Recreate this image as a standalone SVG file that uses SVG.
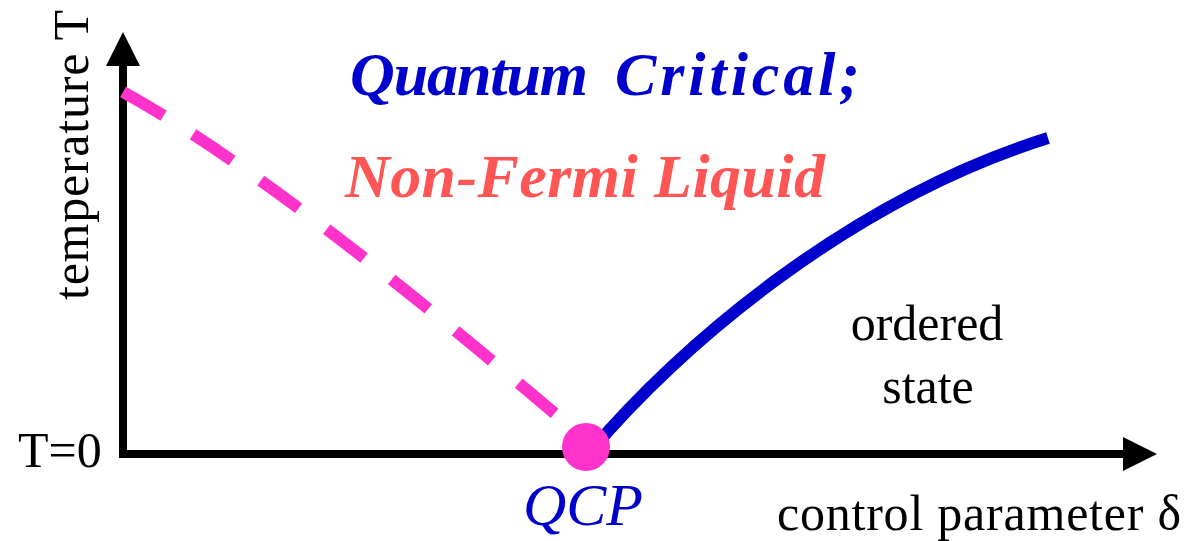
<svg xmlns="http://www.w3.org/2000/svg" width="1187" height="541" viewBox="0 0 1187 541">
<style>
.serif{font-family:"Liberation Serif","Times New Roman",serif;}
.lbl{font-size:50px;fill:#000;}
.bi{font-weight:bold;font-style:italic;}
.axis{stroke:#000;stroke-width:8;fill:none;}
</style>
<rect width="1187" height="541" fill="#fff"/>
<g id="axes">
<path class="axis" d="M123,62 V454 H1127"/>
<polygon points="123,32 106,66 140,66" fill="#000"/>
<polygon points="1157,454 1123,437 1123,471" fill="#000"/>
</g>
<g id="connectors">
<path id="nfl-crossover" d="M123,92 Q274,175 560,418" fill="none" stroke="#FF33CC" stroke-width="12" stroke-dasharray="47 35"/>
<path id="order-boundary" d="M590,452 C680,345 850,200 1048,138" fill="none" stroke="#0000CC" stroke-width="12"/>
</g>
<g id="qcp">
<circle cx="586" cy="447" r="24" fill="#FF33CC"/>
<text class="serif" x="583" y="525" font-size="60" font-style="italic" fill="#0000CC" text-anchor="middle">QCP</text>
</g>
<g id="labels">
<text class="serif lbl" x="18" y="467">T=0</text>
<text class="serif lbl" transform="translate(88,300) rotate(-90)" x="0" y="0" font-size="51" textLength="290" lengthAdjust="spacing">temperature T</text>
<text class="serif lbl" x="777" y="530" textLength="404" lengthAdjust="spacing">control parameter δ</text>
<text class="serif lbl" x="927" y="340" text-anchor="middle">ordered</text>
<text class="serif lbl" x="928" y="403" text-anchor="middle">state</text>
</g>
<g id="title">
<text class="serif bi" x="350" y="95" font-size="62" fill="#0000CC" textLength="238" lengthAdjust="spacing">Quantum</text>
<text class="serif bi" x="615" y="95" font-size="62" fill="#0000CC" textLength="245" lengthAdjust="spacing">Critical;</text>
<text class="serif bi" x="345" y="197" font-size="62" fill="#FF5555" textLength="480" lengthAdjust="spacing">Non-Fermi Liquid</text>
</g>
</svg>
